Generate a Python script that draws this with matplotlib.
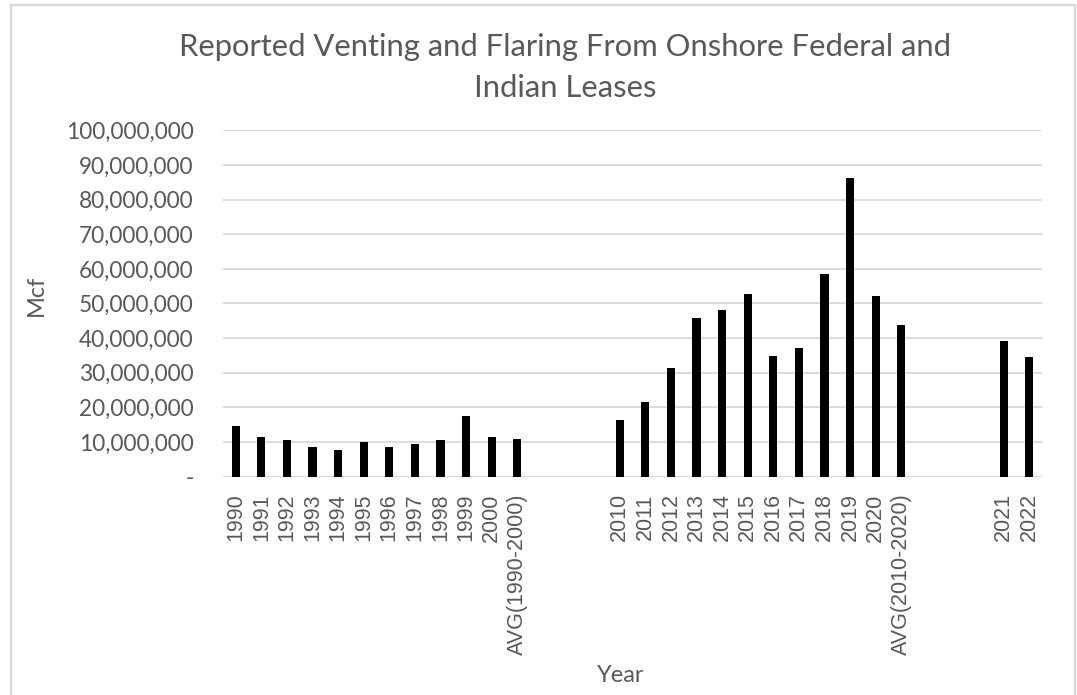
import numpy as np
import matplotlib
matplotlib.use("Agg")
import matplotlib.pyplot as plt
from matplotlib.ticker import FuncFormatter
from matplotlib.lines import Line2D

# categories (empty strings are the blank gap slots of the original sheet)
labels = ["1990", "1991", "1992", "1993", "1994", "1995", "1996", "1997",
          "1998", "1999", "2000", "AVG(1990-2000)",
          "", "", "",
          "2010", "2011", "2012", "2013", "2014", "2015", "2016", "2017",
          "2018", "2019", "2020", "AVG(2010-2020)",
          "", "", "",
          "2021", "2022"]

# Mcf, millions
mcf_1990s = [14.7, 11.6, 10.5, 8.5, 7.8, 10.1, 8.5, 9.3, 10.5, 17.5, 11.6, 10.9]
mcf_2010s = [16.4, 21.5, 31.3, 45.8, 48.2, 52.6, 34.8, 37.2, 58.4, 86.2, 52.1, 43.9]
mcf_recent = [39.2, 34.5]
gap = [np.nan] * 3

values = np.array(mcf_1990s + gap + mcf_2010s + gap + mcf_recent) * 1e6

grey = "#595959"
gridc = "#d9d9d9"
W, H = 1077, 695

fig = plt.figure(figsize=(10.77, 6.95), dpi=100)
ax = fig.add_axes([223/W, 1 - 476.7/H, 819/W, 346.4/H])

x = np.arange(len(labels))
ax.bar(x, values, width=0.32, color="black", zorder=3)

ax.set_xlim(-0.5, len(labels) - 0.5)
ax.set_ylim(0, 100e6)
ax.set_yticks(np.arange(0, 100e6 + 1, 10e6))
ax.yaxis.set_major_formatter(FuncFormatter(lambda v, p: "-" if v == 0 else f"{v:,.0f}"))
ax.grid(axis="y", color=gridc, linewidth=1.3, zorder=0)
for s in ax.spines.values():
    s.set_visible(False)

ax.set_xticks(x)
ax.set_xticklabels(labels, rotation=90, family="Liberation Sans", fontsize=15.5, color=grey)
ax.tick_params(axis="x", length=0, pad=12)
ax.tick_params(axis="y", length=0, pad=21, labelsize=16.3, labelcolor=grey)
for t in ax.get_yticklabels():
    t.set_family("Lato")

fig.text(565/W, 1 - 67.5/H,
         "Reported Venting and Flaring From Onshore Federal and\nIndian Leases",
         ha="center", va="center", family="Lato", fontsize=22.3, color=grey,
         linespacing=1.55)
fig.text(36/W, 1 - 295/H, "Mcf", rotation=90, ha="center", va="center",
         family="Lato", fontsize=17, color=grey)
fig.text(621/W, 1 - 675/H, "Year", ha="center", va="center",
         family="Lato", fontsize=17, color=grey)

# chart border (bottom edge is cropped in the original)
fig.add_artist(Line2D([11/W, 11/W], [0, 1 - 5/H], color=gridc, lw=1.6))
fig.add_artist(Line2D([11/W, 1075/W], [1 - 5/H, 1 - 5/H], color=gridc, lw=1.6))
fig.add_artist(Line2D([1075/W, 1075/W], [0, 1 - 5/H], color=gridc, lw=1.6))

fig.savefig("out.png", dpi=100)
